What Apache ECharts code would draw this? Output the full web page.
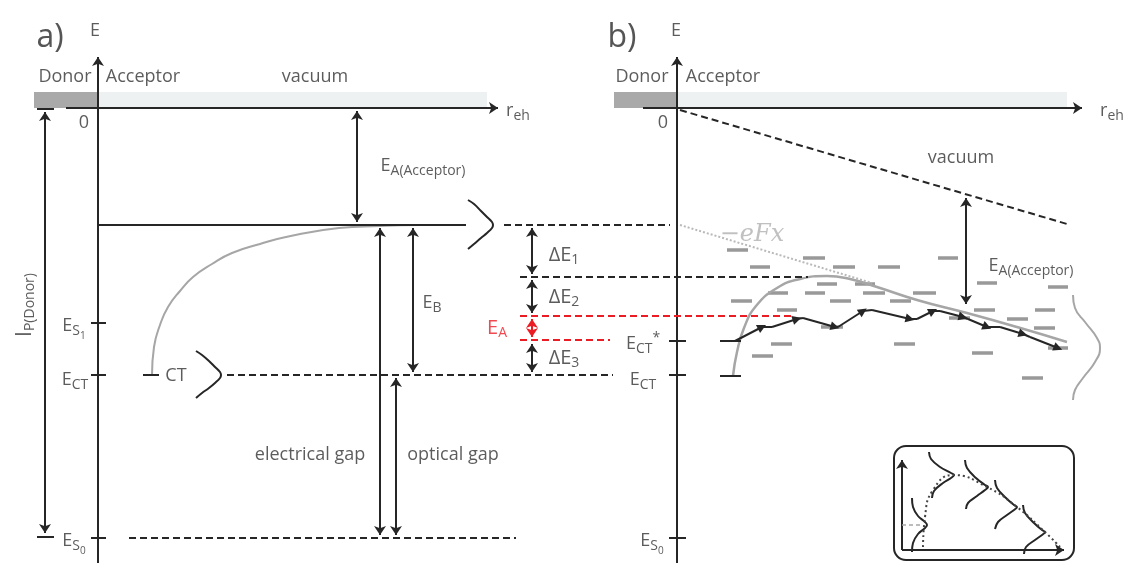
<!DOCTYPE html>
<html>
<head>
<meta charset="utf-8">
<script src="https://cdn.jsdelivr.net/npm/echarts@6/dist/echarts.min.js"></script>
<style>
  html, body { margin: 0; padding: 0; background: #fff; }
  #chart { width: 1129px; height: 563px; }
</style>
</head>
<body>
<div id="chart"></div>
<script>
// diagram units = picture pixels, y counts downward (the y axis is inverted)
const donorBands  = [[34, 92, 98, 108], [614, 92, 677, 108]];
const vacuumBands = [[98, 92, 487, 108], [677, 92, 1067, 108]];
const insetBox    = [[894, 446, 1074, 560]];

// [x0, y0, x1, y1]
const axisArrows = [
  [98, 563, 98, 57], [66, 108, 498, 108],
  [677, 563, 677, 57], [643, 108, 1082, 108],
  [902, 550, 902, 460], [902, 550, 1064, 550]
];
const solidLines = [
  [98, 225, 466, 225],
  [37, 109, 54, 109], [37, 537, 54, 537],
  [91, 323, 106, 323], [91, 375, 106, 375], [91, 538, 106, 538],
  [143, 375, 159, 375],
  [669, 341, 686, 341], [669, 375, 686, 375], [669, 538, 686, 538],
  [720, 341, 741, 341], [720, 376, 741, 376]
];
const doubleArrows = [
  [45, 112, 45, 533],
  [357, 111, 357, 222],
  [380, 228, 380, 535], [396, 378, 396, 535], [413, 228, 413, 372],
  [532, 228, 532, 274], [532, 280, 532, 313], [532, 344, 532, 372],
  [966, 198, 966, 304]
];
const redArrows = [[532, 319, 532, 337]];
const dashedLines = [
  [504, 225, 670, 225], [520, 277, 808, 277],
  [227, 375, 613, 375], [129, 538, 516, 538],
  [680, 110, 1067, 224]
];
const redDashed = [[520, 316, 793, 316], [520, 340, 610, 340]];
const insetDashed = [[902, 525, 923, 525]];
const fieldLine = [[680, 225], [872, 283]];

// smooth curves
const coulombA = [[152, 375], [154, 347], [160, 325], [168, 307], [180, 291], [193, 277], [212, 264],
  [232, 253], [260, 244], [286, 237], [339, 228], [379, 226], [420, 225]];
const coulombB = [[733, 376], [737, 352], [744, 328], [756, 306], [777, 288], [800, 279], [827, 276],
  [850, 279], [877, 287], [917, 300], [967, 313], [1017, 327], [1067, 342]];
const braceAcc = [[468, 200], [474, 204], [481, 211], [487, 217], [492, 222], [493, 225], [492, 228], [487, 233], [481, 238], [474, 244], [468, 249]];
const braceCT  = [[196, 351], [202, 355], [209, 361], [215, 367], [220, 372], [221, 375], [220, 378], [215, 383], [209, 388], [202, 393], [196, 398]];
const braceDOS = [[1073, 295], [1075, 308], [1085, 322], [1097, 338], [1100, 348], [1095, 362], [1083, 378], [1075, 390], [1073, 400]];
const insetCurves = [
  [[912, 498], [913, 507], [918, 516], [925, 522], [927, 525], [925, 528], [918, 534], [913, 543], [912, 552]],
  [[929, 452], [931, 459], [940, 467], [951, 473], [954, 475], [951, 478], [943, 483], [934, 491], [932, 498]],
  [[965, 460], [967, 468], [976, 478], [985, 485], [988, 487], [985, 490], [977, 496], [968, 503], [966, 509]],
  [[995, 480], [997, 488], [1006, 498], [1014, 505], [1017, 507], [1014, 510], [1007, 515], [998, 522], [995, 529]],
  [[1023, 505], [1025, 513], [1034, 523], [1042, 530], [1045, 532], [1042, 535], [1035, 540], [1026, 547], [1024, 554]]
];
const insetEnvelope = [[923, 547], [925, 517], [933, 490], [953, 475], [987, 487], [1017, 507], [1045, 532], [1060, 547]];

// gray localized states [x0, x1, y]
const states = [
  [727, 748, 250], [750, 770, 267], [803, 825, 258], [833, 855, 267], [878, 900, 267], [938, 958, 258],
  [817, 837, 284], [855, 875, 284], [977, 997, 283], [1048, 1068, 287],
  [768, 788, 293], [805, 825, 293], [863, 885, 293], [913, 936, 293],
  [731, 752, 301], [830, 851, 301], [890, 911, 301],
  [777, 797, 310], [974, 995, 310], [1035, 1055, 310],
  [949, 970, 318], [1007, 1028, 319],
  [821, 843, 327], [1034, 1055, 328],
  [771, 792, 344], [894, 915, 344],
  [1048, 1068, 348], [972, 993, 353], [752, 773, 356],
  [1022, 1043, 378]
];

// hopping path, even->odd are hops (with arrow), odd->even stay on a level
const hopPath = [[735, 341], [762, 327], [772, 327], [797, 319], [803, 318], [835, 327], [838, 327],
  [863, 311], [872, 310], [910, 319], [917, 319], [933, 311], [940, 311], [963, 317], [968, 319],
  [987, 327], [1000, 327], [1023, 334], [1030, 337], [1058, 348]];

// texts [x, y, text]
const bigTexts = [[50, 38, 'a)'], [622, 38, 'b)']];
const plainTexts = [
  [95, 31, 'E'], [65, 77, 'Donor'], [143, 77, 'Acceptor'], [315, 77, 'vacuum'], [84, 123, '0'],
  [518, 111, 'r{s|eh}'], [423, 166, 'E{s|A(Acceptor)}'],
  [74, 326, 'E{s|S}{ss|1}'], [75, 380, 'E{s|CT}'], [74, 541, 'E{s|S}{ss|0}'],
  [176, 376, 'CT'], [432, 303, 'E{s|B}'],
  [310, 455, 'electrical gap'], [453, 455, 'optical gap'],
  [676, 31, 'E'], [642, 77, 'Donor'], [723, 77, 'Acceptor'], [663, 123, '0'],
  [1112, 111, 'r{s|eh}'], [961, 158, 'vacuum'], [1031, 266, 'E{s|A(Acceptor)}'],
  [643, 344, 'E{s|CT}{sup|*}'], [643, 380, 'E{s|CT}'], [652, 541, 'E{s|S}{ss|0}']
];
const deltaTexts = [[564, 255, 'ΔE{s|1}'], [564, 297, 'ΔE{s|2}'], [564, 358, 'ΔE{s|3}']];
const redTexts = [[497, 328, 'E{s|A}']];
const rotatedTexts = [[25, 305, 'I{s|P(Donor)}']];
const fieldTexts = [[752, 235, '−eFx']];

const INK = '#262626';
const TEXT = '#333333';
const GRAY = '#a6a6a6';
const RED = '#ec1c24';

const seg = arr => arr.map(s => ({ coords: [[s[0], s[1]], [s[2], s[3]]] }));

const rich = {
  s: { fontSize: 14, padding: [11, 0, 0, 0] },
  ss: { fontSize: 10, padding: [21, 0, 0, 0] },
  sup: { fontSize: 14, padding: [0, 0, 12, 0] }
};

const rectSeries = (data, style, r) => ({
  type: 'custom',
  data: data,
  silent: true,
  renderItem: (params, api) => {
    const p0 = api.coord([api.value(0), api.value(1)]);
    const p1 = api.coord([api.value(2), api.value(3)]);
    return {
      type: 'rect',
      shape: { x: p0[0], y: p0[1], width: p1[0] - p0[0], height: p1[1] - p0[1], r: r },
      style: style
    };
  }
});

const lineSeg = (data, lineStyle, symbol, z) => ({
  type: 'lines',
  coordinateSystem: 'cartesian2d',
  data: seg(data),
  lineStyle: Object.assign({ opacity: 1 }, lineStyle),
  symbol: symbol || 'none',
  symbolSize: 9,
  silent: true,
  z: z || 3
});

const curve = (pts, color, width, smooth, type) => ({
  type: 'line',
  data: pts,
  smooth: smooth,
  showSymbol: false,
  symbol: 'none',
  lineStyle: { color: color, width: width, type: type || 'solid' },
  silent: true,
  z: 2
});

const textSeries = (data, label) => ({
  type: 'scatter',
  data: data.map(t => ({ value: [t[0], t[1]], name: t[2] })),
  symbolSize: 0,
  silent: true,
  z: 5,
  label: Object.assign({
    show: true,
    position: 'inside',
    align: 'center',
    verticalAlign: 'middle',
    formatter: p => p.name,
    color: TEXT,
    fontFamily: 'Open Sans',
    fontSize: 18,
    rich: rich
  }, label)
});

const hops = [], rests = [];
for (let i = 0; i < hopPath.length - 1; i++) {
  const s = [hopPath[i][0], hopPath[i][1], hopPath[i + 1][0], hopPath[i + 1][1]];
  (i % 2 === 0 ? hops : rests).push(s);
}

const chart = echarts.init(document.getElementById('chart'));
chart.setOption({
  animation: false,
  grid: { left: 0, right: 0, top: 0, bottom: 0 },
  xAxis: { type: 'value', min: 0, max: 1129, show: false },
  yAxis: { type: 'value', min: 0, max: 563, inverse: true, show: false },
  series: [
    rectSeries(donorBands, { fill: '#a9a9a9' }, 0),
    rectSeries(vacuumBands, { fill: '#eef1f1' }, 0),
    rectSeries(insetBox, { fill: 'none', stroke: INK, lineWidth: 2 }, 12),

    lineSeg(axisArrows, { color: INK, width: 2 }, ['none', 'arrow']),
    lineSeg(solidLines, { color: INK, width: 2 }),
    lineSeg(doubleArrows, { color: INK, width: 2 }, ['arrow', 'arrow']),
    lineSeg(redArrows, { color: RED, width: 2 }, ['arrow', 'arrow']),
    lineSeg(dashedLines, { color: INK, width: 2, type: [7, 4] }),
    lineSeg(redDashed, { color: RED, width: 2, type: [7, 4] }),
    lineSeg(insetDashed, { color: GRAY, width: 1.5, type: [4, 3] }),
    lineSeg(states.map(s => [s[0], s[2], s[1], s[2]]), { color: '#999999', width: 3.5 }, null, 1),
    lineSeg(hops, { color: INK, width: 2 }, ['none', 'triangle'], 4),
    lineSeg(rests, { color: INK, width: 2 }, null, 4),

    curve(fieldLine, '#b9b9b9', 2, false, [2, 2]),
    curve(coulombA, GRAY, 2, true),
    curve(coulombB, GRAY, 2.5, true),
    curve(braceAcc, INK, 2, 0.4),
    curve(braceCT, INK, 2, 0.4),
    curve(braceDOS, GRAY, 2, 0.5),
    ...insetCurves.map(c => curve(c, INK, 2, 0.4)),
    curve(insetEnvelope, '#444', 2, 0.5, [2, 3]),

    textSeries(bigTexts, { fontSize: 32, color: '#2b2b2b' }),
    textSeries(plainTexts, {}),
    textSeries(deltaTexts, { fontSize: 20 }),
    textSeries(redTexts, { fontSize: 20, color: RED }),
    textSeries(rotatedTexts, { fontSize: 21, rotate: 90 }),
    textSeries(fieldTexts, { fontSize: 24, color: '#b0b0b0', fontFamily: 'DejaVu Serif', fontStyle: 'italic' })
  ]
});
</script>
</body>
</html>
